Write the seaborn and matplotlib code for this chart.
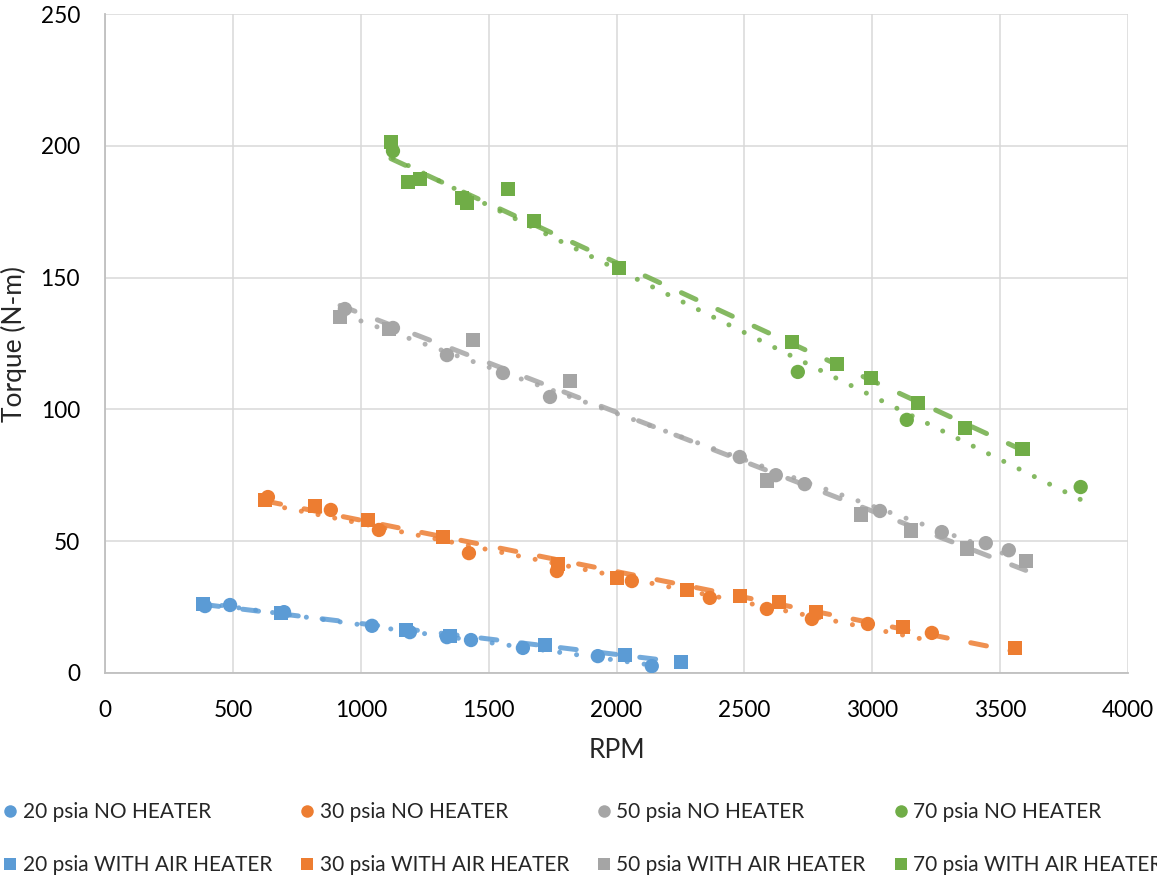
import numpy as np
import pandas as pd
import matplotlib
matplotlib.use("Agg")
import matplotlib.pyplot as plt
from matplotlib.lines import Line2D
import seaborn as sns

# ---- measured torque (N-m) vs shaft speed (RPM) ----
rpm_20_no = [391, 489, 700, 1044, 1192, 1337, 1431, 1634, 1927, 2138]
trq_20_no = [25.3, 25.7, 23.0, 17.8, 15.4, 13.5, 12.4, 9.4, 6.3, 2.5]
rpm_20_air = [383, 688, 1177, 1349, 1720, 2033, 2252]
trq_20_air = [26.1, 22.7, 16.2, 13.9, 10.5, 6.7, 4.1]

rpm_30_no = [637, 883, 1071, 1423, 1767, 2060, 2365, 2588, 2764, 2983, 3233]
trq_30_no = [66.7, 61.8, 54.2, 45.4, 38.6, 34.8, 28.4, 24.2, 20.4, 18.5, 15.1]
rpm_30_air = [625, 821, 1028, 1321, 1771, 2001, 2275, 2482, 2635, 2779, 3119, 3557]
trq_30_air = [65.6, 63.3, 58.0, 51.5, 41.3, 36.0, 31.4, 29.1, 26.8, 23.0, 17.3, 9.4]

rpm_50_no = [938, 1126, 1337, 1556, 1740, 2482, 2623, 2736, 3030, 3272, 3444, 3534]
trq_50_no = [138.1, 130.9, 120.6, 113.8, 104.7, 81.9, 75.0, 71.6, 61.4, 53.4, 49.2, 46.5]
rpm_50_air = [919, 1110, 1439, 1818, 2588, 2955, 3151, 3370, 3600]
trq_50_air = [135.1, 130.5, 126.3, 110.8, 73.0, 60.1, 54.0, 47.2, 42.4]

rpm_70_no = [1126, 2709, 3135, 3815]
trq_70_no = [198.1, 114.2, 96.0, 70.5]
rpm_70_air = [1118, 1184, 1231, 1396, 1415, 1575, 1677, 2009, 2685, 2861, 2994, 3178, 3362, 3588]
trq_70_air = [201.5, 186.3, 187.4, 180.2, 178.3, 183.6, 171.5, 153.7, 125.6, 117.3, 111.9, 102.4, 92.9, 84.9]

pressures = ["20 psia", "30 psia", "50 psia", "70 psia"]
conditions = ["NO HEATER", "WITH AIR HEATER"]
series = {
    ("20 psia", "NO HEATER"): (rpm_20_no, trq_20_no),
    ("20 psia", "WITH AIR HEATER"): (rpm_20_air, trq_20_air),
    ("30 psia", "NO HEATER"): (rpm_30_no, trq_30_no),
    ("30 psia", "WITH AIR HEATER"): (rpm_30_air, trq_30_air),
    ("50 psia", "NO HEATER"): (rpm_50_no, trq_50_no),
    ("50 psia", "WITH AIR HEATER"): (rpm_50_air, trq_50_air),
    ("70 psia", "NO HEATER"): (rpm_70_no, trq_70_no),
    ("70 psia", "WITH AIR HEATER"): (rpm_70_air, trq_70_air),
}

rows = []
for (p, c), (xs, ys) in series.items():
    for x, y in zip(xs, ys):
        rows.append({"RPM": x, "Torque": y, "Pressure": p, "Condition": c})
df = pd.DataFrame(rows)

colors = dict(zip(pressures, ["#5B9BD5", "#ED7D31", "#A5A5A5", "#70AD47"]))
markers = {"NO HEATER": "o", "WITH AIR HEATER": "s"}
trend_styles = {
    "NO HEATER": (0, (0.01, 3.4)),        # round dots
    "WITH AIR HEATER": (0, (3.2, 4.8)),   # long dashes
}

sns.set_theme(style="white")
plt.rcParams["font.family"] = ["Lato", "DejaVu Sans"]

fig = plt.figure(figsize=(11.57, 8.8), dpi=100)
W, H = 1157, 880
ax = fig.add_axes([105 / W, 1 - 672.7 / H, (1128 - 105) / W, (672.7 - 14.3) / H])

sns.scatterplot(data=df, x="RPM", y="Torque", hue="Pressure", style="Condition",
                palette=colors, markers=markers, s=106, linewidth=0,
                legend=False, ax=ax, zorder=3)

# linear trend line for each series
for (p, c), (xs, ys) in series.items():
    sub = df[(df.Pressure == p) & (df.Condition == c)]
    sns.regplot(data=sub, x="RPM", y="Torque", scatter=False, ci=None, ax=ax,
                truncate=True,
                line_kws=dict(color=colors[p], lw=3.6, alpha=0.85,
                              linestyle=trend_styles[c],
                              dash_capstyle="round", solid_capstyle="round",
                              zorder=4))

ax.set_xlim(0, 4000)
ax.set_ylim(0, 250)
ax.set_xticks(np.arange(0, 4001, 500))
ax.set_yticks(np.arange(0, 251, 50))
ax.grid(True, color="#D9D9D9", lw=1.1)
ax.set_axisbelow(True)
for s in ["top", "right"]:
    ax.spines[s].set_visible(False)
for s in ["left", "bottom"]:
    ax.spines[s].set_color("#BFBFBF")
    ax.spines[s].set_linewidth(1.3)
ax.tick_params(axis="both", length=0, labelsize=16.3, colors="black")
ax.tick_params(axis="x", pad=20)
ax.tick_params(axis="y", pad=18)
ax.set_xlabel("RPM", fontsize=19, labelpad=12)
ax.set_ylabel("Torque (N-m)", fontsize=19, labelpad=10)

handles, labels = [], []
for p in pressures:
    for c in conditions:
        handles.append(Line2D([], [], linestyle="none", marker=markers[c],
                              markersize=9, markerfacecolor=colors[p],
                              markeredgewidth=0))
        labels.append(f"{p} {c}")

fig.legend(handles, labels, loc="upper left",
           bbox_to_anchor=(4 / W, 1 - 802 / H),
           ncol=4, frameon=False, fontsize=15, handlelength=0.6,
           handletextpad=0.3, columnspacing=1.38, labelspacing=1.6,
           borderaxespad=0, borderpad=0)

fig.savefig("out.png", dpi=100)
